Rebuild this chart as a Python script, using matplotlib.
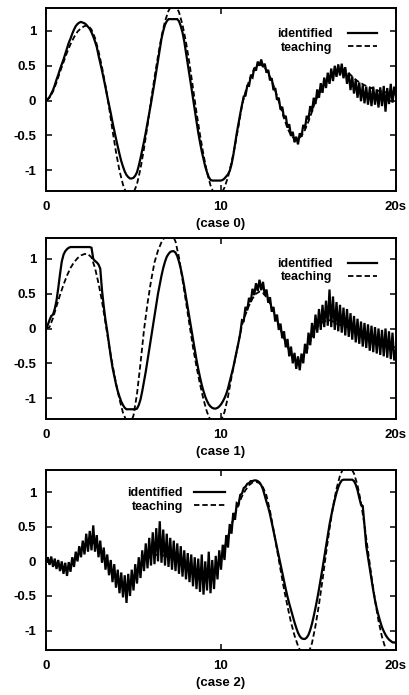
import numpy as np
import matplotlib
matplotlib.use("Agg")
import matplotlib.pyplot as plt

# ---------------- data ----------------
TEACH_STEP = 0.2   # s, sampling of teaching signals
IDENT_STEP = 0.1   # s, sampling of identified signals

teach_case0 = [
    0.00, 0.04, 0.13, 0.26, 0.41, 0.55, 0.69, 0.81, 0.91, 0.99,
    1.04, 1.07, 1.08, 1.02, 0.90, 0.71, 0.48, 0.21, -0.09, -0.43,
    -0.74, -1.01, -1.21, -1.34, -1.38, -1.33, -1.20, -0.98, -0.69, -0.36,
    0.00, 0.33, 0.64, 0.92, 1.14, 1.29, 1.37, 1.37, 1.27, 1.09,
    0.84, 0.53, 0.18, -0.17, -0.49, -0.78, -1.03, -1.22, -1.34, -1.38,
    -1.35, -1.25, -1.10, -0.89, -0.65, -0.37, -0.07, 0.13, 0.28, 0.41,
    0.49, 0.52, 0.50, 0.44, 0.34, 0.22, 0.07, -0.09, -0.25, -0.40,
    -0.50, -0.55, -0.55, -0.51, -0.42, -0.30, -0.16, 0.00, 0.09, 0.18,
    0.26, 0.33, 0.39, 0.43, 0.45, 0.45, 0.42, 0.37, 0.32, 0.28,
    0.25, 0.22, 0.20, 0.18, 0.16, 0.14, 0.13, 0.12, 0.11, 0.10,
    0.10,
]

ident_case0 = [
    0.00, 0.02, 0.05, 0.10, 0.15, 0.22, 0.30, 0.37, 0.45, 0.52,
    0.59, 0.67, 0.75, 0.83, 0.89, 0.96, 1.02, 1.07, 1.10, 1.12,
    1.13, 1.12, 1.11, 1.09, 1.06, 1.03, 0.98, 0.92, 0.85, 0.77,
    0.65, 0.54, 0.43, 0.31, 0.19, 0.06, -0.06, -0.18, -0.31, -0.43,
    -0.55, -0.66, -0.77, -0.87, -0.95, -1.02, -1.07, -1.10, -1.12, -1.12,
    -1.11, -1.08, -1.03, -0.94, -0.83, -0.71, -0.59, -0.46, -0.32, -0.18,
    -0.04, 0.11, 0.26, 0.42, 0.58, 0.74, 0.89, 1.00, 1.09, 1.14,
    1.17, 1.17, 1.17, 1.17, 1.17, 1.17, 1.14, 1.07, 0.98, 0.85,
    0.69, 0.54, 0.37, 0.20, 0.03, -0.14, -0.30, -0.46, -0.60, -0.73,
    -0.84, -0.95, -1.03, -1.10, -1.14, -1.15, -1.15, -1.15, -1.15, -1.15,
    -1.15, -1.14, -1.12, -1.09, -1.06, -1.01, -0.92, -0.79, -0.63, -0.47,
    -0.33, -0.19, -0.06, 0.06, 0.07, 0.21, 0.21, 0.35, 0.33, 0.47,
    0.43, 0.56, 0.50, 0.59, 0.48, 0.53, 0.40, 0.44, 0.29, 0.32,
    0.15, 0.18, 0.01, 0.04, -0.13, -0.09, -0.25, -0.22, -0.39, -0.34,
    -0.51, -0.45, -0.60, -0.52, -0.63, -0.47, -0.52, -0.35, -0.40, -0.22,
    -0.27, -0.08, -0.16, 0.04, -0.05, 0.16, 0.04, 0.25, 0.11, 0.33,
    0.18, 0.40, 0.24, 0.46, 0.28, 0.50, 0.34, 0.52, 0.36, 0.53,
    0.32, 0.48, 0.24, 0.40, 0.15, 0.34, 0.10, 0.30, 0.04, 0.26,
    -0.01, 0.22, -0.04, 0.20, -0.06, 0.18, -0.08, 0.20, -0.06, 0.16,
    -0.10, 0.19, -0.08, 0.21, -0.16, 0.18, -0.05, 0.24, -0.03, 0.20,
    0.06,
]

teach_case1 = [
    0.00, 0.02, 0.15, 0.32, 0.48, 0.63, 0.76, 0.87, 0.95, 1.01,
    1.05, 1.07, 1.07, 1.02, 0.87, 0.65, 0.39, 0.08, -0.24, -0.52,
    -0.79, -1.02, -1.21, -1.33, -1.38, -1.25, -0.94, -0.50, -0.02, 0.36,
    0.68, 0.95, 1.12, 1.24, 1.32, 1.37, 1.36, 1.25, 1.02, 0.70,
    0.38, 0.05, -0.27, -0.55, -0.80, -1.02, -1.20, -1.32, -1.38, -1.38,
    -1.32, -1.20, -0.98, -0.70, -0.45, -0.20, 0.05, 0.20, 0.33, 0.43,
    0.50, 0.53, 0.51, 0.45, 0.36, 0.24, 0.12, -0.01, -0.14, -0.26,
    -0.37, -0.45, -0.48, -0.45, -0.37, -0.25, -0.12, -0.02, 0.05, 0.09,
    0.11, 0.12, 0.10, 0.07, 0.05, 0.04, 0.02, 0.00, -0.02, -0.05,
    -0.08, -0.10, -0.12, -0.14, -0.16, -0.18, -0.20, -0.22, -0.24, -0.26,
    -0.28,
]

ident_case1 = [
    0.00, 0.05, 0.12, 0.18, 0.20, 0.28, 0.40, 0.58, 0.78, 0.96,
    1.06, 1.11, 1.14, 1.16, 1.17, 1.17, 1.17, 1.17, 1.17, 1.17,
    1.17, 1.17, 1.17, 1.17, 1.17, 1.17, 1.16, 1.00, 0.97, 0.95,
    0.92, 0.86, 0.55, 0.32, 0.12, -0.04, -0.22, -0.40, -0.56, -0.68,
    -0.80, -0.90, -0.98, -1.05, -1.10, -1.14, -1.16, -1.16, -1.16, -1.16,
    -1.16, -1.16, -1.15, -1.10, -1.02, -0.90, -0.76, -0.62, -0.46, -0.30,
    -0.14, 0.02, 0.18, 0.34, 0.50, 0.63, 0.76, 0.87, 0.96, 1.03,
    1.07, 1.10, 1.11, 1.11, 1.09, 1.04, 0.96, 0.86, 0.74, 0.60,
    0.45, 0.30, 0.15, 0.00, -0.15, -0.30, -0.45, -0.58, -0.70, -0.81,
    -0.90, -0.98, -1.04, -1.09, -1.12, -1.14, -1.15, -1.15, -1.14, -1.12,
    -1.09, -1.05, -1.00, -0.94, -0.86, -0.76, -0.66, -0.56, -0.44, -0.32,
    -0.20, -0.07, 0.12, 0.11, 0.31, 0.26, 0.44, 0.38, 0.57, 0.48,
    0.65, 0.54, 0.70, 0.55, 0.67, 0.48, 0.56, 0.37, 0.45, 0.24,
    0.31, 0.10, 0.20, -0.02, 0.07, -0.14, -0.04, -0.27, -0.15, -0.40,
    -0.26, -0.50, -0.35, -0.58, -0.40, -0.60, -0.36, -0.50, -0.22, -0.36,
    -0.06, -0.24, 0.08, -0.14, 0.20, -0.06, 0.28, -0.02, 0.34, 0.02,
    0.40, 0.04, 0.56, 0.02, 0.46, -0.02, 0.38, -0.04, 0.34, -0.06,
    0.30, -0.10, 0.28, -0.12, 0.22, -0.16, 0.18, -0.20, 0.14, -0.22,
    0.10, -0.26, 0.08, -0.28, 0.06, -0.32, 0.04, -0.34, 0.02, -0.36,
    0.00, -0.38, -0.02, -0.40, 0.00, -0.42, -0.04, -0.44, -0.06, -0.46,
    -0.30,
]

teach_case2 = [
    0.00, -0.02, -0.04, -0.06, -0.08, -0.10, -0.10, -0.06, 0.02, 0.10,
    0.17, 0.23, 0.27, 0.28, 0.25, 0.19, 0.11, 0.02, -0.07, -0.16,
    -0.24, -0.30, -0.34, -0.34, -0.30, -0.24, -0.16, -0.08, -0.01, 0.04,
    0.07, 0.09, 0.10, 0.09, 0.08, 0.06, 0.05, 0.03, 0.02, 0.00,
    -0.03, -0.06, -0.09, -0.12, -0.15, -0.17, -0.18, -0.17, -0.13, -0.06,
    0.05, 0.20, 0.36, 0.53, 0.68, 0.82, 0.94, 1.03, 1.10, 1.14,
    1.15, 1.13, 1.07, 0.95, 0.73, 0.46, 0.17, -0.12, -0.40, -0.65,
    -0.88, -1.07, -1.22, -1.33, -1.38, -1.33, -1.18, -0.93, -0.62, -0.27,
    0.11, 0.47, 0.79, 1.05, 1.24, 1.35, 1.38, 1.36, 1.27, 1.10,
    0.85, 0.52, 0.15, -0.22, -0.56, -0.86, -1.09, -1.26, -1.35, -1.38,
    -1.36,
]

ident_case2 = [
    0.00, 0.06, -0.05, 0.07, -0.08, 0.04, -0.11, 0.02, -0.14, 0.00,
    -0.18, -0.02, -0.21, -0.01, -0.15, 0.06, -0.08, 0.14, 0.00, 0.22,
    0.06, 0.30, 0.10, 0.40, 0.14, 0.44, 0.16, 0.52, 0.14, 0.38,
    0.06, 0.30, -0.02, 0.20, -0.12, 0.10, -0.20, 0.02, -0.30, -0.04,
    -0.38, -0.12, -0.46, -0.16, -0.52, -0.20, -0.60, -0.18, -0.50, -0.12,
    -0.42, -0.04, -0.32, 0.06, -0.24, 0.16, -0.14, 0.26, -0.10, 0.34,
    -0.06, 0.42, -0.04, 0.48, 0.00, 0.58, -0.02, 0.46, -0.06, 0.40,
    -0.08, 0.34, -0.12, 0.30, -0.14, 0.26, -0.18, 0.22, -0.22, 0.16,
    -0.26, 0.12, -0.30, 0.10, -0.36, 0.06, -0.40, 0.04, -0.44, 0.10,
    -0.48, 0.00, -0.42, 0.14, -0.46, 0.02, -0.40, 0.08, -0.26, 0.16,
    -0.12, 0.24, 0.02, 0.38, 0.20, 0.54, 0.40, 0.70, 0.60, 0.84,
    0.82, 0.96, 0.98, 1.06, 1.08, 1.12, 1.13, 1.16, 1.16, 1.17,
    1.17, 1.16, 1.14, 1.10, 1.04, 0.95, 0.86, 0.78, 0.68, 0.56,
    0.44, 0.32, 0.20, 0.08, -0.04, -0.16, -0.28, -0.40, -0.51, -0.61,
    -0.70, -0.79, -0.88, -0.96, -1.03, -1.08, -1.11, -1.12, -1.12, -1.10,
    -1.06, -0.99, -0.90, -0.79, -0.67, -0.54, -0.40, -0.25, -0.10, 0.06,
    0.22, 0.38, 0.53, 0.66, 0.78, 0.89, 0.99, 1.07, 1.13, 1.17,
    1.18, 1.18, 1.18, 1.18, 1.18, 1.18, 1.16, 1.11, 1.03, 0.92,
    0.82, 0.80, 0.52, 0.22, 0.06, -0.10, -0.26, -0.42, -0.56, -0.68,
    -0.78, -0.87, -0.95, -1.01, -1.06, -1.10, -1.13, -1.15, -1.17, -1.17,
    -1.18,
]

case_labels = ["(case 0)", "(case 1)", "(case 2)"]
series_labels = ["identified", "teaching"]
x_ticks = [0, 10, 20]
x_tick_labels = ["0", "10", "20s"]
y_ticks = [-1, -0.5, 0, 0.5, 1]
y_tick_labels = ["-1", "-0.5", "0", "0.5", "1"]

# ---------------- drawing ----------------
plt.rcParams["font.family"] = ["Liberation Sans", "DejaVu Sans"]
plt.rcParams["font.weight"] = "bold"

fig = plt.figure(figsize=(4.10, 6.95), dpi=100)
rects = [
    [46 / 410, 1 - 191 / 695, 350 / 410, 183 / 695],
    [46 / 410, 1 - 419 / 695, 350 / 410, 181 / 695],
    [46 / 410, 1 - 650 / 695, 350 / 410, 180 / 695],
]
ylims = [(-1.30, 1.33), (-1.30, 1.30), (-1.28, 1.32)]
legend_anchor = [(0.946, 0.89), (0.946, 0.89), (0.511, 0.905)]
legend_handle = [(2.3, 1.25), (2.3, 1.25), (2.5, 0.85)]

teach = [teach_case0, teach_case1, teach_case2]
ident = [ident_case0, ident_case1, ident_case2]

for k in range(3):
    ax = fig.add_axes(rects[k])
    ti = np.arange(len(ident[k])) * IDENT_STEP
    tt = np.arange(len(teach[k])) * TEACH_STEP
    ax.plot(ti, ident[k], color="black", lw=1.6, solid_joinstyle="miter",
            label=series_labels[0])
    ax.plot(tt, teach[k], color="black", lw=1.3, linestyle=(0, (3.0, 1.6)),
            label=series_labels[1])
    ax.set_xlim(0, 20)
    ax.set_ylim(*ylims[k])
    ax.set_xticks(x_ticks)
    ax.set_xticklabels(x_tick_labels)
    ax.set_yticks(y_ticks)
    ax.set_yticklabels(y_tick_labels)
    ax.tick_params(axis="both", direction="in", length=4, width=1.1,
                   top=True, right=True, labelsize=9.5)
    ax.tick_params(axis="x", pad=7.5)
    ax.tick_params(axis="y", pad=7)
    for lab in ax.get_xticklabels() + ax.get_yticklabels():
        lab.set_fontweight("bold")
    for sp in ax.spines.values():
        sp.set_linewidth(1.4)
    ax.set_xlabel(case_labels[k], fontsize=9.5, fontweight="bold", labelpad=3.5)
    hl, hp = legend_handle[k]
    ax.legend(loc="upper right", bbox_to_anchor=legend_anchor[k],
              frameon=False, markerfirst=False, handlelength=hl,
              handletextpad=hp, labelspacing=0.12, borderpad=0,
              borderaxespad=0, prop={"size": 9, "weight": "bold"})

fig.savefig("out.png", dpi=100)
